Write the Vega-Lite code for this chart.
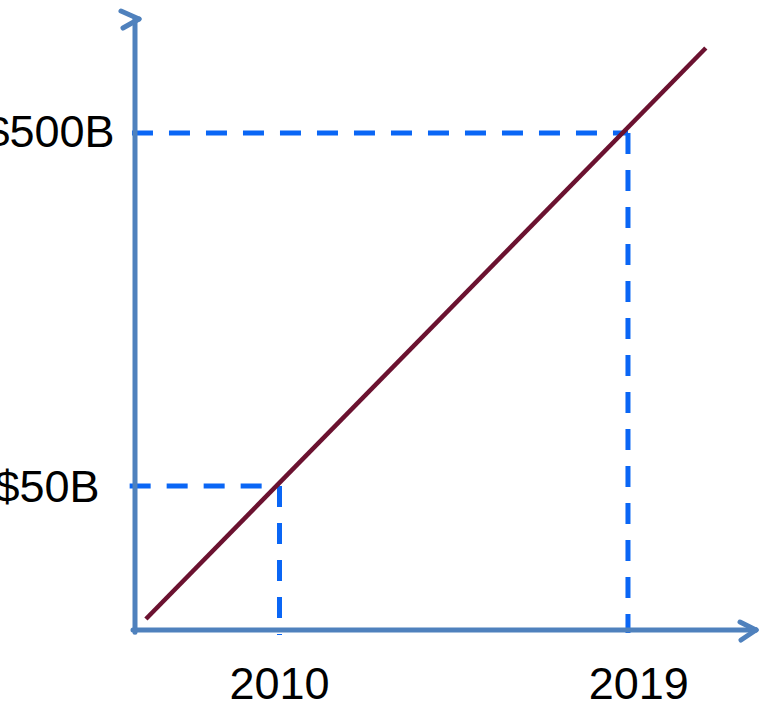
{
  "$schema": "https://vega.github.io/schema/vega-lite/v6.json",
  "width": 759,
  "height": 706,
  "autosize": "none",
  "padding": 0,
  "background": "white",
  "config": {"view": {"stroke": null}},
  "datasets": {
    "axes": [
      {"part": "y axis", "x1": 2006.268, "x2": 2006.268, "y1": 19.27, "y2": 1051.8},
      {"part": "x axis", "x1": 2006.216, "x2": 2022.306, "y1": 19.55, "y2": 19.55},
      {"part": "y arrow upper", "x1": 2005.906, "x2": 2006.371, "y1": 1108.1, "y2": 1051.8},
      {"part": "y arrow lower", "x1": 2006.371, "x2": 2005.958, "y1": 1051.8, "y2": 991.8},
      {"part": "x arrow upper", "x1": 2021.893, "x2": 2022.306, "y1": 20.59, "y2": 19.55},
      {"part": "x arrow lower", "x1": 2022.306, "x2": 2021.919, "y1": 19.55, "y2": 18.31}
    ],
    "guides": [
      {"part": "500B level", "x1": 2006.19, "x2": 2019.0, "y1": 500, "y2": 500},
      {"part": "2019 drop", "x1": 2019.0, "x2": 2019.0, "y1": 500, "y2": 19.17},
      {"part": "50B level", "x1": 2006.13, "x2": 2010.0, "y1": 50, "y2": 50},
      {"part": "2010 drop", "x1": 2010.0, "x2": 2010.0, "y1": 50, "y2": 18.92}
    ],
    "trend": [
      {"x1": 2006.55, "x2": 2021.01, "y1": 21.0, "y2": 870.5}
    ],
    "ylabels": [
      {"label": "$500B", "x": 2005.739, "y": 457.3},
      {"label": "$50B", "x": 2005.351, "y": 45.13}
    ],
    "xlabels": [
      {"label": "2010", "x": 2010.0, "y": 12.44},
      {"label": "2019", "x": 2019.277, "y": 12.44}
    ]
  },
  "layer": [
    {
      "data": {"name": "guides"},
      "mark": {"type": "rule", "color": "#0a66f5", "strokeWidth": 5, "strokeDash": [21, 16]},
      "encoding": {
        "x": {"field": "x1", "type": "quantitative", "scale": {"type": "linear", "domain": [2002.7815, 2022.3838], "nice": false, "zero": false}, "axis": null},
        "x2": {"field": "x2"},
        "y": {"field": "y1", "type": "quantitative", "scale": {"type": "log", "domain": [11.906, 1190.6], "nice": false}, "axis": null},
        "y2": {"field": "y2"}
      }
    },
    {
      "data": {"name": "axes"},
      "mark": {"type": "rule", "color": "#4f81bd", "strokeWidth": 5, "strokeCap": "round"},
      "encoding": {
        "x": {"field": "x1", "type": "quantitative"},
        "x2": {"field": "x2"},
        "y": {"field": "y1", "type": "quantitative"},
        "y2": {"field": "y2"}
      }
    },
    {
      "data": {"name": "trend"},
      "mark": {"type": "rule", "color": "#6b1230", "strokeWidth": 4.5, "strokeCap": "butt"},
      "encoding": {
        "x": {"field": "x1", "type": "quantitative"},
        "x2": {"field": "x2"},
        "y": {"field": "y1", "type": "quantitative"},
        "y2": {"field": "y2"}
      }
    },
    {
      "data": {"name": "ylabels"},
      "mark": {"type": "text", "align": "right", "baseline": "alphabetic", "font": "Liberation Sans", "fontSize": 45, "color": "#000000"},
      "encoding": {
        "x": {"field": "x", "type": "quantitative"},
        "y": {"field": "y", "type": "quantitative"},
        "text": {"field": "label"}
      }
    },
    {
      "data": {"name": "xlabels"},
      "mark": {"type": "text", "align": "center", "baseline": "alphabetic", "font": "Liberation Sans", "fontSize": 45, "color": "#000000"},
      "encoding": {
        "x": {"field": "x", "type": "quantitative"},
        "y": {"field": "y", "type": "quantitative"},
        "text": {"field": "label"}
      }
    }
  ]
}
